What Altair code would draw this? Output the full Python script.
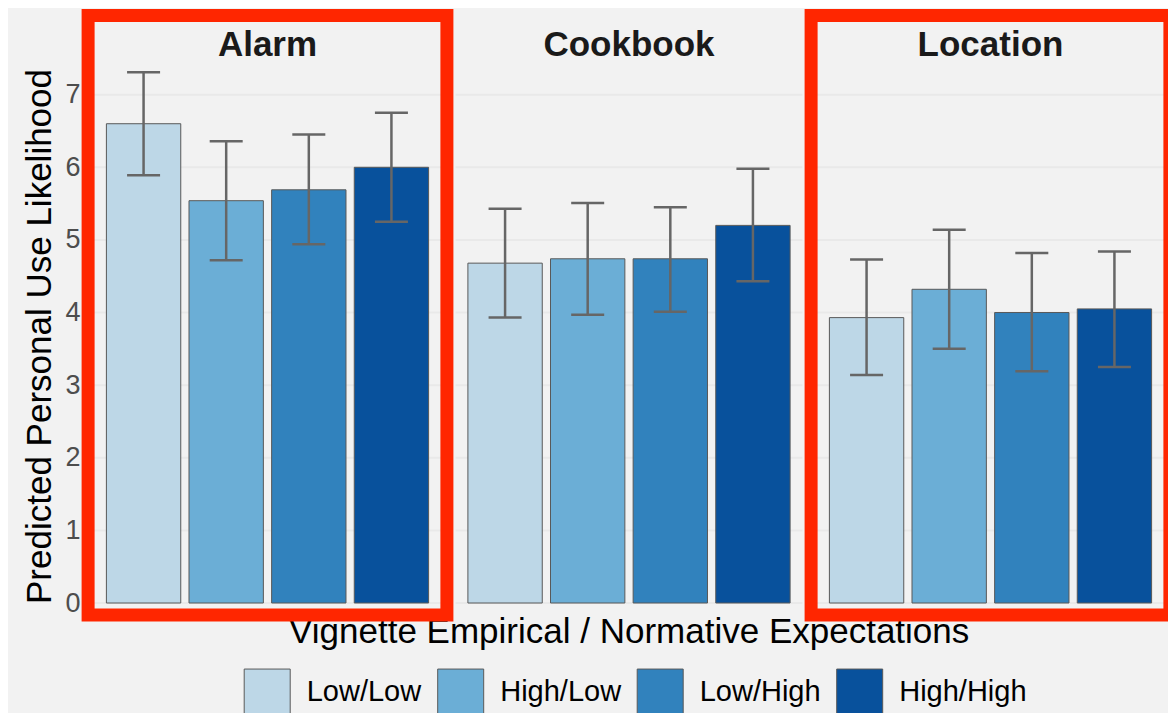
import altair as alt
import pandas as pd

scenarios = ["Alarm", "Cookbook", "Location"]
conditions = ["Low/Low", "High/Low", "Low/High", "High/High"]
colors = ["#bdd7e7", "#6baed6", "#3182bd", "#08519c"]

alarm_mean = [6.60, 5.54, 5.69, 6.00]
alarm_lo = [5.89, 4.72, 4.94, 5.25]
alarm_hi = [7.31, 6.36, 6.45, 6.75]

cookbook_mean = [4.68, 4.74, 4.74, 5.20]
cookbook_lo = [3.93, 3.97, 4.01, 4.43]
cookbook_hi = [5.43, 5.51, 5.45, 5.98]

location_mean = [3.93, 4.32, 4.00, 4.05]
location_lo = [3.14, 3.50, 3.19, 3.25]
location_hi = [4.73, 5.14, 4.82, 4.84]

highlighted = ["Alarm", "Location"]
y_ticks = [0, 1, 2, 3, 4, 5, 6, 7]
x_title = "Vignette Empirical / Normative Expectations"
y_title = "Predicted Personal Use Likelihood"

rows = []
for sc, m, lo, hi in [
    ("Alarm", alarm_mean, alarm_lo, alarm_hi),
    ("Cookbook", cookbook_mean, cookbook_lo, cookbook_hi),
    ("Location", location_mean, location_lo, location_hi),
]:
    for c, mv, lv, hv in zip(conditions, m, lo, hi):
        rows.append({"scenario": sc, "condition": c, "value": mv, "lo": lv, "hi": hv})
df = pd.DataFrame(rows)

grid_df = pd.DataFrame([{"scenario": s, "value": v} for s in scenarios for v in y_ticks])
hl_df = pd.DataFrame({"scenario": highlighted})
title_df = pd.DataFrame({"t": [x_title]})

FONT = "Liberation Sans"
W, H = 1070, 541
GAP = 14.5
STEP = (W + GAP) / 3
BAND = STEP - GAP

x_enc = alt.X(
    "scenario:N",
    sort=scenarios,
    scale=alt.Scale(domain=scenarios, paddingInner=GAP / STEP, paddingOuter=0),
    axis=alt.Axis(
        orient="top", title=None, domain=False, ticks=False, grid=False,
        labelAngle=0, labelAlign="center",
        labelFontSize=35, labelFontWeight="bold", labelColor="#1a1a1a",
        labelPadding=7, labelBaseline="alphabetic", labelFont=FONT,
    ),
)
xo_enc = alt.XOffset(
    "condition:N", sort=conditions,
    scale=alt.Scale(domain=conditions, paddingInner=0.1, paddingOuter=0.15),
)
y_scale = alt.Scale(domain=[0, 7.45], nice=False, zero=False)
y_axis = alt.Axis(
    values=y_ticks, grid=False, domain=False, ticks=False,
    labelFontSize=27, labelColor="#4d4d4d", labelPadding=14, labelFont=FONT,
    title=y_title, titleFontSize=35,
    titleFontWeight="normal", titleColor="black", titleFont=FONT,
    titleX=-44, titleY=274, titleAlign="center", titleBaseline="alphabetic",
    titleAngle=270,
)

grid = alt.Chart(grid_df).mark_tick(
    orient="horizontal", size=BAND, thickness=2, color="#e9e9e9", opacity=1
).encode(
    x=x_enc,
    y=alt.Y("value:Q", scale=y_scale, axis=y_axis),
)

bars = alt.Chart(df).mark_bar(stroke="#595959", strokeWidth=1, opacity=1).encode(
    x=x_enc,
    xOffset=xo_enc,
    y=alt.Y("value:Q", scale=y_scale, axis=y_axis),
    color=alt.Color(
        "condition:N",
        sort=conditions,
        scale=alt.Scale(domain=conditions, range=colors),
        legend=alt.Legend(
            orient="none", legendX=149.7, legendY=606.3, direction="horizontal",
            title=None, symbolType="square", symbolSize=2116,
            symbolStrokeColor="#595959", symbolStrokeWidth=1, symbolOpacity=1,
            labelFontSize=29, labelColor="black", labelFont=FONT,
            labelOffset=16, columnPadding=13.5, padding=0,
        ),
    ),
)

whisk = alt.Chart(df).mark_rule(color="#666666", strokeWidth=2.5).encode(
    x=x_enc, xOffset=xo_enc,
    y=alt.Y("lo:Q", scale=y_scale, axis=y_axis),
    y2="hi:Q",
)
cap_lo = alt.Chart(df).mark_tick(
    orient="horizontal", size=33, thickness=2.5, color="#666666", opacity=1
).encode(x=x_enc, xOffset=xo_enc, y=alt.Y("lo:Q", scale=y_scale, axis=y_axis))
cap_hi = alt.Chart(df).mark_tick(
    orient="horizontal", size=33, thickness=2.5, color="#666666", opacity=1
).encode(x=x_enc, xOffset=xo_enc, y=alt.Y("hi:Q", scale=y_scale, axis=y_axis))

xtitle = alt.Chart(title_df).mark_text(
    fontSize=35, font=FONT, color="black", align="center", baseline="alphabetic",
    clip=False,
).encode(
    text="t:N",
    x=alt.value(535.2),
    y=alt.value(580.7),
)

boxes = alt.Chart(hl_df).mark_bar(
    width=358.8, fill="transparent", stroke="#ff2600", strokeWidth=13, clip=False
).encode(
    x=x_enc,
    y=alt.value(-46.5),
    y2=alt.value(553),
)

chart = alt.layer(grid, bars, whisk, cap_lo, cap_hi, xtitle, boxes).properties(
    width=W,
    height=H,
    autosize=alt.AutoSizeParams(type="none"),
    padding={"left": 86, "top": 54, "right": 4, "bottom": 110},
    background="#f2f2f2",
).configure_view(stroke=None)

chart.save("out.html", embed_options={"renderer": "svg", "actions": False})
